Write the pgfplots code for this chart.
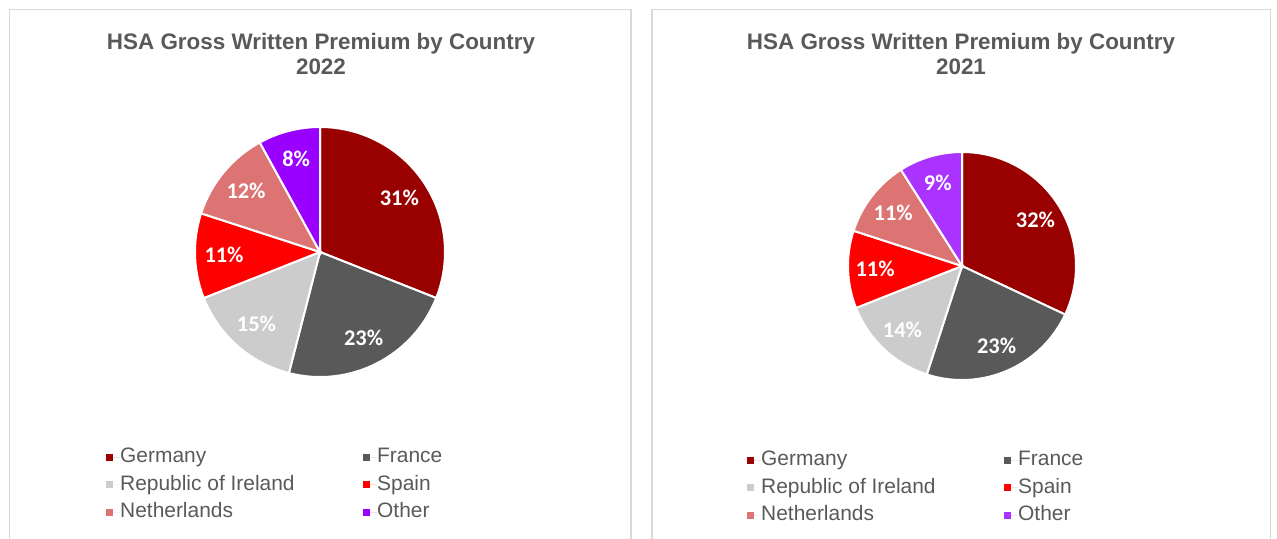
\documentclass[border=0pt]{standalone}
\usepackage{pgfplots}
\pgfplotsset{compat=1.18}
\usepackage{fontspec}
\setmainfont{Liberation Sans}
\newfontfamily\carlito{Carlito}
\definecolor{cGer}{RGB}{153,0,0}
\definecolor{cFra}{RGB}{89,89,89}
\definecolor{cIre}{RGB}{204,204,204}
\definecolor{cSpa}{RGB}{255,0,0}
\definecolor{cNet}{RGB}{220,116,116}
\definecolor{cOthA}{RGB}{153,0,255}
\definecolor{cOthB}{RGB}{170,51,255}
\definecolor{textgray}{RGB}{89,89,89}
\definecolor{bordergray}{RGB}{217,217,217}

\pgfplotsset{pieaxis/.style={hide axis, scale only axis, x=1bp, y=1bp,
  xmin=0, xmax=1277, ymin=0, ymax=539, clip=false, anchor=origin, at={(0,0)},
  legend columns=2, legend cell align=left,
  legend style={draw=none, fill=none, inner sep=0pt, column sep=0pt, row sep=8.5bp,
    font=\fontsize{21}{21}\selectfont, text=textgray,
    nodes={inner sep=0pt, text height=15bp, text depth=4bp}},
  legend image code/.code={\fill[##1, draw=none] (0bp,-3.5bp) rectangle (7bp,3.5bp); \path[draw=none] (0bp,0bp) -- (14bp,0bp);}}}

% #1 cx, #2 cy, #3 radius, #4 label radius, #5 list value/colour
\newcommand\drawpie[5]{%
 \pgfplotsextra{%
  \xdef\pcum{0}%
  \foreach \v/\c in {#5}{%
    \pgfmathsetmacro\aS{90-3.6*\pcum}%
    \pgfmathsetmacro\aE{90-3.6*(\pcum+\v)}%
    \pgfmathsetmacro\aM{(\aS+\aE)/2}%
    \fill[fill=\c, draw=white, line width=2bp] (axis cs:#1,#2) -- ++(\aS:#3bp) arc[start angle=\aS, end angle=\aE, radius=#3bp] -- cycle;
    \path (axis cs:#1,#2) ++(\aM:#4bp) node[text=white, font=\carlito\bfseries\fontsize{22.5}{22.5}\selectfont]{\v\%};
    \pgfmathsetmacro\nc{\pcum+\v}\xdef\pcum{\nc}%
  }}}

\begin{document}
\begin{tikzpicture}
\useasboundingbox (0,0) rectangle (1277bp,539bp);
% ---------- 2022 ----------
\begin{axis}[pieaxis, legend style={at={(axis cs:106,91.5)}, anchor=north west}]
\draw[bordergray, line width=1.5bp] (axis cs:9.5,-5) -- (axis cs:9.5,529.5) -- (axis cs:631,529.5) -- (axis cs:631,-5);
\node[font=\bfseries\fontsize{22.5}{26}\selectfont, text=textgray, align=center] at (axis cs:321,485) {HSA Gross Written Premium by Country\\2022};
\drawpie{320}{287}{125}{96}{31/cGer,23/cFra,15/cIre,11/cSpa,12/cNet,8/cOthA}
\addlegendimage{fill=cGer}\addlegendentry{\makebox[243bp][l]{Germany}}
\addlegendimage{fill=cFra}\addlegendentry{France}
\addlegendimage{fill=cIre}\addlegendentry{\makebox[243bp][l]{Republic of Ireland}}
\addlegendimage{fill=cSpa}\addlegendentry{Spain}
\addlegendimage{fill=cNet}\addlegendentry{\makebox[243bp][l]{Netherlands}}
\addlegendimage{fill=cOthA}\addlegendentry{Other}
\end{axis}
% ---------- 2021 ----------
\begin{axis}[pieaxis, legend style={at={(axis cs:747,88.5)}, anchor=north west}]
\draw[bordergray, line width=1.5bp] (axis cs:652,-5) -- (axis cs:652,529.5) -- (axis cs:1270.5,529.5) -- (axis cs:1270.5,-5);
\node[font=\bfseries\fontsize{22.5}{26}\selectfont, text=textgray, align=center] at (axis cs:961,485) {HSA Gross Written Premium by Country\\2021};
\drawpie{962}{273}{114}{87}{32/cGer,23/cFra,14/cIre,11/cSpa,11/cNet,9/cOthB}
\addlegendimage{fill=cGer}\addlegendentry{\makebox[243bp][l]{Germany}}
\addlegendimage{fill=cFra}\addlegendentry{France}
\addlegendimage{fill=cIre}\addlegendentry{\makebox[243bp][l]{Republic of Ireland}}
\addlegendimage{fill=cSpa}\addlegendentry{Spain}
\addlegendimage{fill=cNet}\addlegendentry{\makebox[243bp][l]{Netherlands}}
\addlegendimage{fill=cOthB}\addlegendentry{Other}
\end{axis}
\end{tikzpicture}
\end{document}
